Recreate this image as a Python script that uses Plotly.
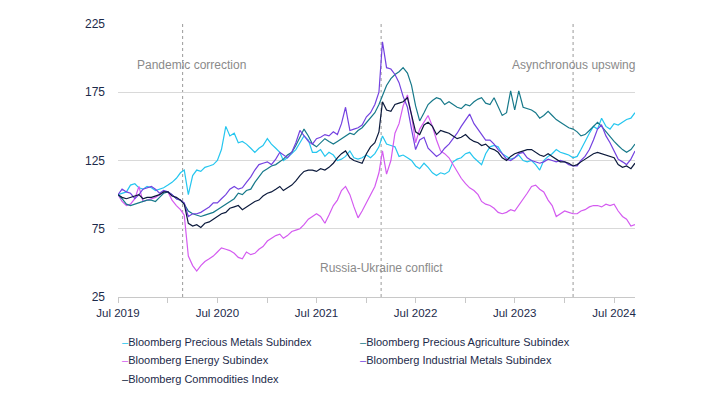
import pandas as pd
import plotly.graph_objects as go

months = pd.date_range("2019-07-01", "2024-09-01", freq="MS")
dates = []
for m in months:
    dates.append(m)
    dates.append(m + pd.Timedelta(days=15))

names = [
    "Bloomberg Precious Metals Subindex",
    "Bloomberg Precious Agriculture Subindex",
    "Bloomberg Energy Subindex",
    "Bloomberg Industrial Metals Subindex",
    "Bloomberg Commodities Index",
]
colors = ["#25c6ef", "#17798a", "#d45bf0", "#7442e0", "#0c1a3c"]

precious_metals = [
    100, 101, 102, 107, 108, 105, 104, 106, 105, 103, 104, 105,
    107, 109, 112, 116, 118, 100, 114, 118, 117, 120, 121, 122, 125, 133, 150, 143, 145, 138, 139, 137, 134, 131, 134, 136,
    141, 137, 134, 131, 125, 127, 130, 133, 138, 143, 140, 131, 131, 133, 128, 131, 129, 125, 126, 128, 132, 127, 126, 127,
    129, 127, 130, 135, 143, 137, 136, 135, 128, 129, 127, 125, 121, 119, 123, 120, 116, 114, 116, 115, 117, 124, 126, 127,
    130, 131, 127, 124, 122, 130, 135, 136, 135, 130, 128, 126, 127, 129, 125, 124, 125, 122, 118, 125, 128, 130, 133, 131,
    130, 129, 127, 128, 133, 139, 145, 150, 148, 156, 150, 148, 152, 151, 153, 155, 156, 160,
]
agriculture = [
    100, 97, 93, 92, 93, 94, 95, 96, 96, 95, 98, 101,
    102, 100, 97, 96, 93, 88, 86, 85, 84, 85, 86, 87, 89, 91, 93, 95, 97, 101, 100, 103, 104, 109, 113, 117,
    119, 121, 122, 124, 126, 129, 131, 136, 142, 148, 143, 137, 135, 138, 141, 139, 137, 139, 141, 143, 145, 144, 147, 149,
    153, 156, 160, 166, 172, 180, 185, 188, 190, 193, 189, 180, 165, 154, 160, 166, 169, 171, 170, 166, 168, 166, 164, 163,
    166, 165, 168, 170, 171, 167, 166, 171, 165, 158, 160, 176, 162, 176, 164, 163, 162, 160, 156, 158, 161, 158, 155, 153,
    151, 149, 148, 146, 143, 144, 147, 150, 153, 150, 146, 142, 139, 136, 133, 131, 133, 137,
]
energy = [
    100, 95, 92, 93, 97, 106, 95, 96, 97, 98, 100, 102,
    102, 96, 92, 89, 85, 55, 48, 44, 48, 51, 53, 55, 58, 61, 60, 59, 57, 54, 53, 58, 56, 57, 60, 62,
    66, 68, 70, 71, 68, 70, 73, 74, 75, 78, 82, 84, 86, 84, 79, 85, 92, 96, 103, 106, 100, 91, 83, 88,
    94, 100, 106, 116, 132, 115, 125, 145, 152, 165, 173, 158, 138, 148, 153, 158, 150, 140, 132, 130, 127, 122, 116, 112,
    108, 105, 103, 100, 95, 93, 92, 90, 87, 86, 87, 89, 88, 92, 97, 101, 106, 107, 104, 102, 96, 92, 84, 86,
    88, 87, 86, 86, 88, 89, 91, 92, 92, 91, 93, 92, 93, 88, 84, 82, 77, 78,
]
industrial_metals = [
    100, 104, 102, 101, 97, 100, 104, 105, 106, 104, 101, 103,
    102, 100, 97, 96, 94, 84, 86, 86, 87, 89, 91, 94, 94, 97, 100, 104, 106, 104, 105, 109, 113, 118, 122, 123,
    124, 122, 126, 131, 129, 127, 131, 138, 147, 143, 139, 137, 141, 142, 144, 143, 146, 144, 152, 164, 147, 148, 149, 151,
    157, 160, 166, 175, 212, 193, 192, 188, 182, 172, 164, 148, 133, 140, 142, 134, 131, 128, 130, 134, 137, 141, 145, 150,
    155, 159, 152, 148, 144, 140, 140, 137, 133, 130, 126, 125, 127, 130, 131, 127, 125, 124, 123, 124, 126, 125, 124, 125,
    124, 122, 121, 121, 125, 128, 133, 140, 148, 151, 143, 138, 132, 126, 124, 122, 126, 132,
]
commodities = [
    100, 98, 97, 98, 99, 100, 97, 98, 98, 99, 100, 102,
    102, 99, 98, 96, 93, 79, 77, 78, 76, 79, 80, 82, 84, 86, 87, 90, 91, 92, 89, 91, 93, 95, 96, 99,
    101, 102, 104, 106, 103, 105, 107, 110, 114, 117, 118, 118, 117, 119, 118, 120, 123, 127, 130, 132, 127, 125, 124, 123,
    130, 135, 138, 146, 168, 162, 161, 166, 167, 168, 171, 158, 146, 144, 151, 153, 150, 144, 147, 146, 145, 143, 141, 142,
    144, 141, 139, 138, 136, 137, 134, 133, 131, 127, 125, 128, 130, 131, 132, 133, 133, 131, 129, 128, 130, 128, 126, 124,
    124, 123, 121, 122, 124, 126, 128, 130, 131, 130, 129, 128, 127, 122, 120, 121, 119, 123,
]
series = [precious_metals, agriculture, energy, industrial_metals, commodities]

event_dates = ["2020-02-24", "2022-02-24", "2024-02-01"]
event_labels = ["Pandemic correction", "Russia-Ukraine conflict", "Asynchronous upswing"]
label_pos = [("2020-03-29", 195), ("2022-02-24", 46.5), ("2024-02-01", 195)]

y_ticks = [25, 75, 125, 175, 225]

navy = "#1c2a4a"
fig = go.Figure()
draw_order = [0, 2, 1, 3, 4]
for i in draw_order:
    fig.add_trace(go.Scatter(x=dates, y=series[i], name=names[i], mode="lines",
                             line=dict(color=colors[i], width=1.2), showlegend=False))

for d in event_dates:
    fig.add_shape(type="line", x0=d, x1=d, y0=25, y1=225, xref="x", yref="y",
                  line=dict(color="#9a9a9a", width=1, dash="3px,3px"), layer="below")

for (xd, yv), txt in zip(label_pos, event_labels):
    fig.add_annotation(x=xd, y=yv, text=txt, showarrow=False, xref="x", yref="y",
                       font=dict(size=12, color="#8a8a8a"), xanchor="center", yanchor="middle")

# legend built from the series names and colours
leg_x = [0.004, 0.464, 0.004, 0.464, 0.004]
leg_y = [-0.164, -0.164, -0.232, -0.232, -0.300]
for nm, c, lx, ly in zip(names, colors, leg_x, leg_y):
    fig.add_annotation(x=lx, y=ly, xref="paper", yref="paper", showarrow=False,
                       xanchor="left", yanchor="middle",
                       text=f"<span style='color:{c}'>–</span>{nm}",
                       font=dict(size=11, color=navy))

# page body has an 8px margin, so the figure is laid out 8px smaller
fig.update_layout(
    width=712, height=385,
    margin=dict(l=110, r=85, t=9, b=96),
    paper_bgcolor="white", plot_bgcolor="white",
    font=dict(family="Liberation Sans, Arial, sans-serif", color=navy, size=12),
    showlegend=False,
)
fig.update_xaxes(
    range=["2019-07-01", "2024-09-16"],
    tick0="2019-07-01", dtick="M12", tickformat="%b %Y",
    ticks="outside", ticklen=5, tickcolor="#c8c8c8",
    minor=dict(ticks="outside", dtick="M6", tick0="2019-07-01", ticklen=5, tickcolor="#c8c8c8"),
    showline=True, linecolor="#c8c8c8", linewidth=1,
    showgrid=False, zeroline=False,
    tickfont=dict(size=11.5, color=navy),
)
fig.update_yaxes(
    range=[25, 225], tickvals=y_ticks,
    showgrid=True, gridcolor="#d9d9d9", gridwidth=1,
    zeroline=False, showline=False, ticks="",
    ticklabelstandoff=12,
    tickfont=dict(size=12, color=navy),
)

fig.write_html("out.html")
